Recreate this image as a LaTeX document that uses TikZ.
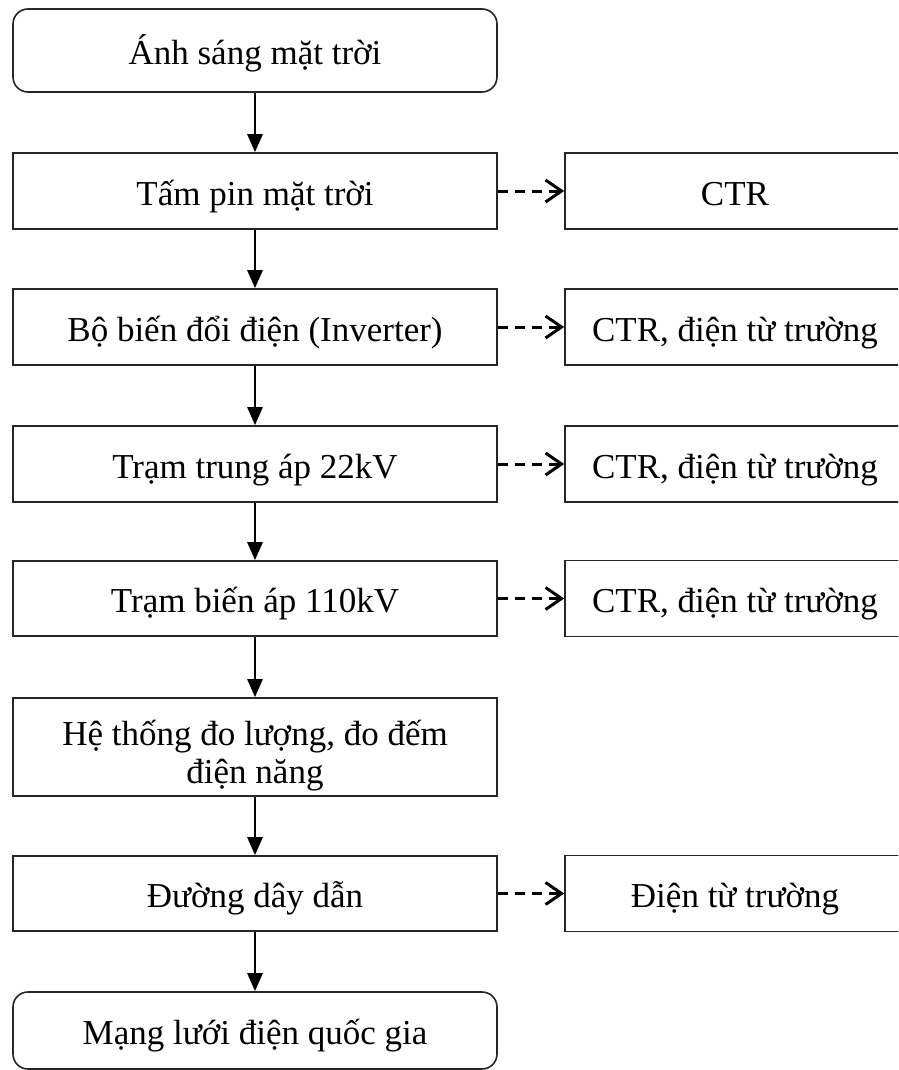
\documentclass[tikz,border=0pt]{standalone}
\usepackage{fontspec}
\setmainfont{Liberation Serif}
\usetikzlibrary{arrows.meta}

\tikzset{
  box/.style={draw=black!85, line width=1.6pt, rectangle, align=center,
    minimum width=484pt, inner sep=0pt, font=\fontsize{35}{38}\selectfont,
    text height=28pt, text depth=0pt},
  roundbox/.style={box, rounded corners=15pt},
  sidebox/.style={box, minimum width=340pt, minimum height=76pt},
  twolines/.style={text height=72pt, text depth=0pt},
  flow/.style={line width=2.6pt, -{Triangle[length=18pt,width=15pt]}},
  side/.style={line width=3pt, dash pattern=on 10pt off 7pt,
    -{Straight Barb[length=16pt,width=22pt,line width=3pt]}}
}

\begin{document}
\begin{tikzpicture}[x=1pt, y=-1pt]
  \useasboundingbox (0,0) rectangle (898,1070);
  \fill[white] (0,0) rectangle (898,1070);
  \clip (0,0) rectangle (898,1070);

  % main chain of stages
  \node[roundbox, minimum height=83pt] (sun)   at (255,50.5)  {Ánh sáng mặt trời};
  \node[box, minimum height=76pt]      (panel) at (255,191)   {Tấm pin mặt trời};
  \node[box, minimum height=76pt]      (inv)   at (255,327)   {Bộ biến đổi điện (Inverter)};
  \node[box, minimum height=76pt]      (mv)    at (255,464)   {Trạm trung áp 22kV};
  \node[box, minimum height=75pt]      (hv)    at (255,598.5) {Trạm biến áp 110kV};
  \node[box, twolines, minimum height=98pt] (meter) at (255,747) {Hệ thống đo lượng, đo đếm\\điện năng};
  \node[box, minimum height=75pt]      (wire)  at (255,893.5) {Đường dây dẫn};
  \node[roundbox, minimum height=77pt] (grid)  at (255,1030.5){Mạng lưới điện quốc gia};

  % side effects of each stage
  \node[sidebox] (e1) at (735,191)   {CTR};
  \node[sidebox] (e2) at (735,327)   {CTR, điện từ trường};
  \node[sidebox] (e3) at (735,464)   {CTR, điện từ trường};
  \node[sidebox] (e4) at (735,598.5) {CTR, điện từ trường};
  \node[sidebox] (e5) at (735,893.5) {Điện từ trường};

  % flow arrows
  \draw[flow] (sun)   -- (panel);
  \draw[flow] (panel) -- (inv);
  \draw[flow] (inv)   -- (mv);
  \draw[flow] (mv)    -- (hv);
  \draw[flow] (hv)    -- (meter);
  \draw[flow] (meter) -- (wire);
  \draw[flow] (wire)  -- (grid);

  % dashed links to side effects
  \draw[side] (panel) -- (e1);
  \draw[side] (inv)   -- (e2);
  \draw[side] (mv)    -- (e3);
  \draw[side] (hv)    -- (e4);
  \draw[side] (wire)  -- (e5);
\end{tikzpicture}
\end{document}
